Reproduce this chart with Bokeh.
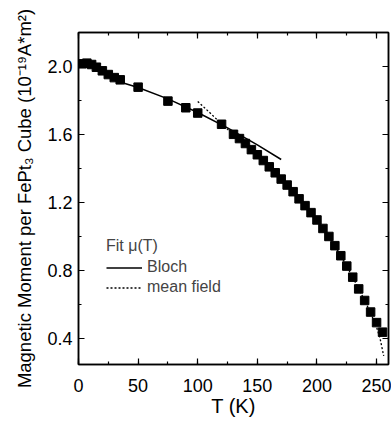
from bokeh.plotting import figure
from bokeh.models import (LinearAxis, SingleIntervalTicker, NumeralTickFormatter,
                          Range1d, Legend, LegendItem, CustomJSTickFormatter)
from bokeh.embed import file_html
from bokeh.resources import INLINE

# measured data
temps = [3, 7, 11, 15, 20, 25, 30, 35, 50, 75, 90, 100, 120, 130, 135, 140, 145,
         150, 155, 160, 165, 170, 175, 180, 185, 190, 195, 200, 205, 210, 215,
         220, 225, 230, 235, 240, 245, 250, 255]
moment = [2.016, 2.020, 2.012, 1.996, 1.975, 1.953, 1.935, 1.922, 1.879, 1.797,
          1.758, 1.727, 1.661, 1.602, 1.577, 1.548, 1.512, 1.482, 1.448, 1.411,
          1.376, 1.339, 1.304, 1.265, 1.223, 1.183, 1.142, 1.099, 1.049, 1.002,
          0.948, 0.889, 0.828, 0.763, 0.694, 0.626, 0.558, 0.496, 0.440]

# Bloch fit curve
bloch_t = [30, 50, 75, 100, 125, 150, 170]
bloch_m = [1.920, 1.877, 1.810, 1.730, 1.640, 1.540, 1.454]

# mean field fit curve
mf_t = [100, 110, 120, 130, 140, 150, 160, 170, 180, 190, 200, 210, 220, 230,
        240, 245, 250, 253, 256]
mf_m = [1.795, 1.730, 1.663, 1.600, 1.540, 1.478, 1.411, 1.339, 1.265, 1.183,
        1.099, 1.002, 0.889, 0.763, 0.626, 0.552, 0.470, 0.400, 0.300]

x_ticks_interval = 50
y_ticks_interval = 0.4

FONT = "Liberation Sans"

p = figure(width=391, height=424, output_backend="svg", toolbar_location=None,
           x_range=Range1d(0, 260), y_range=Range1d(0.25, 2.2),
           min_border_left=78, min_border_right=3, min_border_top=32,
           min_border_bottom=60)
p.background_fill_color = "white"
p.border_fill_color = "white"
p.xgrid.visible = False
p.ygrid.visible = False
p.outline_line_color = "black"
p.outline_line_width = 1.5

r_data = p.scatter(temps, moment, marker="square", size=8.5, color="black")
r_bloch = p.line(bloch_t, bloch_m, line_color="black", line_width=1.5)
r_mf = p.line(mf_t, mf_m, line_color="black", line_width=1.3, line_dash="2 2")

def style_axis(ax, ticker, labels=True):
    ax.ticker = ticker
    ax.axis_line_color = "black"
    ax.axis_line_width = 1.5
    ax.major_tick_in = 6
    ax.major_tick_out = 0
    ax.minor_tick_in = 3
    ax.minor_tick_out = 0
    ax.major_tick_line_width = 1.2
    ax.minor_tick_line_width = 1.2
    ax.major_tick_line_color = "black"
    ax.minor_tick_line_color = "black"
    ax.major_label_text_font = FONT
    ax.major_label_text_font_size = "18px"
    ax.major_label_text_color = "black"
    ax.axis_label_text_font = FONT
    ax.axis_label_text_font_style = "normal"
    ax.axis_label_text_font_size = "20px"
    ax.axis_label_text_color = "black"
    if not labels:
        ax.formatter = CustomJSTickFormatter(code="return '';")
        ax.major_label_standoff = 0

xt = SingleIntervalTicker(interval=x_ticks_interval, num_minor_ticks=2)
yt = SingleIntervalTicker(interval=y_ticks_interval, num_minor_ticks=2)

style_axis(p.xaxis[0], xt)
p.xaxis[0].axis_label = "T (K)"
p.xaxis[0].major_label_standoff = 14
p.xaxis[0].axis_label_standoff = 0

style_axis(p.yaxis[0], yt)
p.yaxis[0].axis_label = "Magnetic Moment per FePt\u2083 Cube (10\u207b\u00b9\u2079A*m\u00b2)"
p.yaxis[0].axis_label_text_font_size = "18.5px"
p.yaxis[0].formatter = NumeralTickFormatter(format="0.0")
p.yaxis[0].major_label_standoff = 6
p.yaxis[0].axis_label_standoff = 9

top = LinearAxis()
style_axis(top, SingleIntervalTicker(interval=x_ticks_interval, num_minor_ticks=2), labels=False)
p.add_layout(top, "above")
right = LinearAxis()
style_axis(right, SingleIntervalTicker(interval=y_ticks_interval, num_minor_ticks=2), labels=False)
p.add_layout(right, "right")

legend = Legend(items=[LegendItem(label="Bloch", renderers=[r_bloch]),
                       LegendItem(label="mean field", renderers=[r_mf])],
                location=(28, 68), title="Fit \u03bc(T)")
legend.title_text_font = FONT
legend.title_text_font_size = "16px"
legend.title_text_font_style = "normal"
legend.title_standoff = 3
legend.label_text_font = FONT
legend.label_text_font_size = "16px"
legend.glyph_width = 36
legend.glyph_height = 15
legend.label_standoff = 5
legend.spacing = 2
legend.padding = 0
legend.margin = 0
legend.border_line_color = None
legend.background_fill_alpha = 0
p.add_layout(legend, "center")

open("out.html", "w").write(file_html(p, INLINE))
